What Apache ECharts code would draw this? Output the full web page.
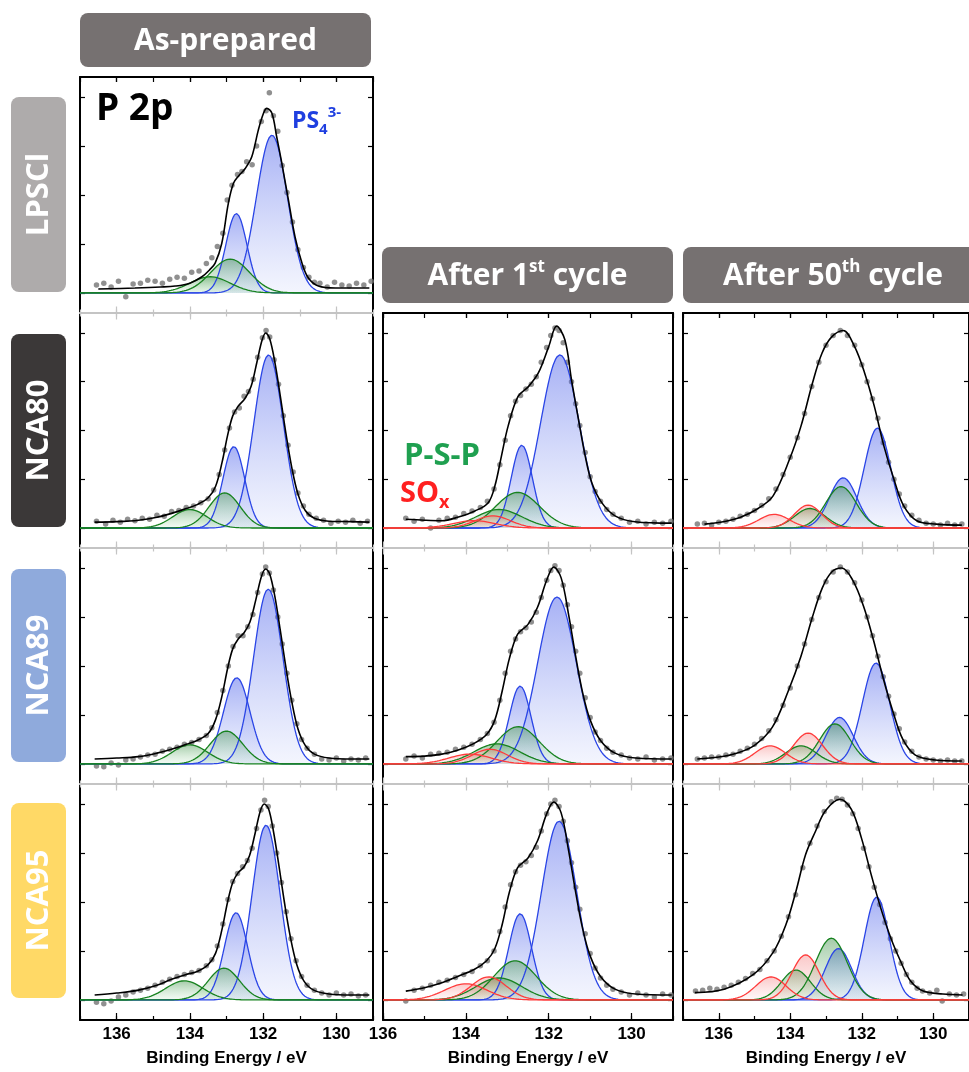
<!DOCTYPE html>
<html>
<head>
<meta charset="utf-8">
<script src="https://cdn.jsdelivr.net/npm/echarts@6/dist/echarts.min.js"></script>
<style>
  html, body { margin: 0; padding: 0; background: #fff; }
  #chart { width: 969px; height: 1072px; }
</style>
</head>
<body>
<div id="chart"></div>
<script>
// ---- data (binding energy eV, intensity in tick units) ----
const majorTicks = [130, 132, 134, 136];
const yTicks = [0, 1, 2, 3, 4];

// fitted components: [centre eV, height, FWHM eV]
// LPSCl as-prepared
const a1Blue = [[131.76, 3.22, 1.0], [132.73, 1.62, 0.68]];
const a1Green = [[132.9, 0.69, 1.25], [133.45, 0.33, 1.3]];
const a1Env = [[136.5,0.08],[135.5,0.1],[134.8,0.12],[134.4,0.14],[134.0,0.2],[133.67,0.33],[133.45,0.48],[133.31,0.61],[133.13,1.01],[132.95,1.83],[132.81,2.24],[132.67,2.39],[132.49,2.54],[132.31,2.78],[132.13,3.33],[131.99,3.67],[131.9,3.77],[131.76,3.67],[131.63,3.19],[131.49,2.65],[131.31,1.9],[131.13,1.15],[130.94,0.61],[130.76,0.3],[130.49,0.14],[130.03,0.1],[129.1,0.1]];
const a1Dots = [[136.55,0.16],[136.35,0.2],[136.15,0.12],[135.95,0.24],[135.75,-0.08],[135.55,0.18],[135.35,0.2],[135.15,0.26],[134.95,0.24],[134.75,0.2],[134.55,0.28],[134.35,0.32],[134.15,0.3],[133.95,0.42],[133.75,0.45],[133.55,0.6],[133.4,0.72],[133.25,0.95],[133.1,1.22],[132.98,1.9],[132.85,2.2],[132.7,2.42],[132.58,2.48],[132.45,2.68],[132.3,2.62],[132.18,3.0],[132.05,3.5],[131.92,3.72],[131.83,4.09],[131.72,3.62],[131.6,3.3],[131.48,2.6],[131.35,2.05],[131.2,1.45],[131.05,0.88],[130.9,0.52],[130.75,0.32],[130.6,0.22],[130.45,0.2],[130.25,0.12],[130.05,0.22],[129.85,0.16],[129.65,0.14],[129.45,0.2],[129.25,0.16],[129.05,0.24]];

// NCA80 as-prepared
const a2Blue = [[131.85, 3.55, 0.95], [132.8, 1.67, 0.7]];
const a2Green = [[133.05, 0.72, 1.0], [134.0, 0.38, 1.1]];
const a2Env = [[136.6,0.12],[136.0,0.13],[135.4,0.16],[134.9,0.22],[134.5,0.3],[134.1,0.4],[133.8,0.48],[133.5,0.62],[133.3,0.85],[133.12,1.35],[132.97,1.9],[132.83,2.3],[132.68,2.5],[132.5,2.65],[132.33,2.9],[132.17,3.4],[132.03,3.85],[131.93,4.0],[131.82,3.88],[131.68,3.4],[131.53,2.7],[131.38,1.95],[131.22,1.25],[131.05,0.7],[130.85,0.36],[130.6,0.2],[130.2,0.14],[129.6,0.13],[129.1,0.12]];
const a2Dots = [[136.55,0.14],[136.3,0.08],[136.1,0.16],[135.9,0.12],[135.7,0.18],[135.5,0.15],[135.3,0.2],[135.1,0.18],[134.9,0.26],[134.7,0.24],[134.5,0.34],[134.3,0.36],[134.1,0.42],[133.9,0.45],[133.7,0.52],[133.5,0.6],[133.35,0.78],[133.2,1.1],[133.05,1.6],[132.92,2.05],[132.78,2.38],[132.65,2.46],[132.52,2.7],[132.4,2.8],[132.27,3.05],[132.15,3.5],[132.02,3.9],[131.92,4.05],[131.82,3.92],[131.7,3.45],[131.58,2.95],[131.45,2.3],[131.32,1.7],[131.18,1.15],[131.05,0.72],[130.9,0.45],[130.75,0.28],[130.55,0.2],[130.35,0.16],[130.15,0.1],[129.95,0.14],[129.75,0.12],[129.55,0.16],[129.35,0.1],[129.15,0.14]];

// NCA89 as-prepared
const a3Blue = [[131.86, 3.57, 0.95], [132.72, 1.76, 0.85]];
const a3Green = [[133.0, 0.67, 1.05], [134.0, 0.39, 1.15]];
const a3Env = [[136.6,0.1],[136.0,0.12],[135.4,0.15],[134.9,0.22],[134.5,0.3],[134.1,0.4],[133.8,0.48],[133.5,0.62],[133.3,0.9],[133.12,1.4],[132.97,1.95],[132.83,2.35],[132.68,2.55],[132.52,2.68],[132.36,2.9],[132.2,3.35],[132.05,3.82],[131.93,3.98],[131.82,3.88],[131.68,3.42],[131.53,2.72],[131.38,1.98],[131.22,1.28],[131.05,0.72],[130.85,0.38],[130.6,0.2],[130.2,0.12],[129.6,0.1],[129.1,0.1]];
const a3Dots = [[136.55,-0.04],[136.35,-0.06],[136.15,0.02],[135.95,-0.02],[135.75,0.08],[135.55,0.1],[135.35,0.14],[135.15,0.18],[134.95,0.2],[134.75,0.26],[134.55,0.3],[134.35,0.34],[134.15,0.4],[133.95,0.44],[133.75,0.5],[133.55,0.58],[133.4,0.74],[133.25,1.05],[133.1,1.5],[132.95,2.0],[132.82,2.4],[132.68,2.62],[132.55,2.62],[132.42,2.8],[132.28,3.05],[132.15,3.5],[132.02,3.88],[131.93,4.02],[131.83,3.9],[131.72,3.55],[131.6,3.0],[131.48,2.45],[131.35,1.85],[131.22,1.3],[131.08,0.82],[130.95,0.5],[130.8,0.32],[130.6,0.2],[130.4,0.1],[130.2,0.08],[130.0,0.12],[129.8,0.06],[129.6,0.1],[129.4,0.08],[129.2,0.12]];

// NCA95 as-prepared
const a4Blue = [[131.92, 3.57, 0.9], [132.74, 1.78, 0.75]];
const a4Green = [[133.07, 0.65, 1.0], [134.15, 0.39, 1.2]];
const a4Env = [[136.6,0.1],[136.0,0.14],[135.4,0.2],[134.9,0.3],[134.5,0.42],[134.1,0.52],[133.8,0.58],[133.5,0.72],[133.3,0.95],[133.12,1.45],[132.97,2.0],[132.83,2.4],[132.68,2.6],[132.52,2.72],[132.37,2.95],[132.22,3.4],[132.08,3.85],[131.97,4.0],[131.85,3.9],[131.72,3.45],[131.57,2.75],[131.42,2.0],[131.26,1.3],[131.08,0.72],[130.88,0.38],[130.62,0.2],[130.2,0.12],[129.6,0.1],[129.1,0.1]];
const a4Dots = [[136.55,-0.05],[136.35,-0.08],[136.15,-0.02],[135.95,0.06],[135.75,0.1],[135.55,0.16],[135.35,0.2],[135.15,0.24],[134.95,0.3],[134.75,0.36],[134.55,0.42],[134.35,0.48],[134.15,0.52],[133.95,0.56],[133.75,0.6],[133.55,0.7],[133.4,0.82],[133.25,1.1],[133.1,1.55],[132.96,2.05],[132.83,2.42],[132.7,2.58],[132.56,2.72],[132.43,2.85],[132.3,3.1],[132.18,3.5],[132.06,3.88],[131.96,4.08],[131.86,3.95],[131.75,3.55],[131.63,3.0],[131.5,2.4],[131.37,1.8],[131.24,1.25],[131.1,0.8],[130.95,0.48],[130.8,0.3],[130.6,0.2],[130.4,0.14],[130.2,0.1],[130.0,0.14],[129.8,0.1],[129.6,0.12],[129.4,0.08],[129.2,0.1]];

// NCA80 after 1st cycle
const b2Blue = [[131.73, 3.55, 1.1], [132.65, 1.7, 0.6]];
const b2Green = [[132.75, 0.73, 1.25], [133.2, 0.38, 1.3]];
const b2Red = [[133.35, 0.25, 1.0], [133.8, 0.15, 1.2]];
const b2Env = [[135.45,0.18],[135.0,0.16],[134.58,0.15],[134.2,0.22],[133.78,0.35],[133.46,0.52],[133.3,0.86],[133.14,1.48],[132.98,2.09],[132.74,2.7],[132.49,2.9],[132.25,3.18],[132.0,3.72],[131.81,4.14],[131.61,3.86],[131.45,3.04],[131.28,2.22],[131.12,1.48],[130.96,0.93],[130.72,0.52],[130.4,0.25],[129.92,0.13],[129.03,0.1]];
const b2Dots = [[135.45,0.2],[135.25,0.14],[135.05,0.18],[134.85,0.0],[134.65,0.16],[134.45,0.2],[134.25,0.22],[134.05,0.3],[133.85,0.35],[133.65,0.42],[133.48,0.55],[133.32,0.8],[133.18,1.3],[133.05,1.8],[132.92,2.3],[132.8,2.6],[132.68,2.72],[132.55,2.85],[132.42,2.95],[132.3,3.1],[132.18,3.4],[132.05,3.7],[131.95,3.95],[131.85,4.1],[131.75,4.05],[131.65,3.8],[131.55,3.4],[131.45,3.0],[131.35,2.55],[131.25,2.1],[131.12,1.55],[131.0,1.05],[130.88,0.75],[130.75,0.55],[130.6,0.38],[130.45,0.28],[130.25,0.2],[130.05,0.12],[129.85,0.14],[129.65,0.08],[129.45,0.12],[129.25,0.1],[129.05,0.14]];

// NCA89 after 1st cycle
const b3Blue = [[131.8, 3.41, 1.1], [132.69, 1.59, 0.62]];
const b3Green = [[132.74, 0.76, 1.2], [133.25, 0.41, 1.3]];
const b3Red = [[133.42, 0.3, 1.0], [133.9, 0.2, 1.2]];
const b3Env = [[135.45,0.15],[135.0,0.16],[134.58,0.2],[134.2,0.28],[133.8,0.42],[133.5,0.6],[133.3,0.9],[133.12,1.5],[132.95,2.15],[132.75,2.65],[132.5,2.85],[132.27,3.2],[132.05,3.75],[131.88,4.02],[131.7,3.8],[131.52,3.05],[131.35,2.2],[131.18,1.45],[131.0,0.9],[130.75,0.48],[130.4,0.22],[129.9,0.12],[129.03,0.1]];
const b3Dots = [[135.45,0.1],[135.25,0.16],[135.05,0.12],[134.85,0.2],[134.65,0.22],[134.45,0.24],[134.25,0.3],[134.05,0.34],[133.85,0.4],[133.65,0.5],[133.48,0.62],[133.32,0.85],[133.18,1.3],[133.05,1.85],[132.92,2.3],[132.8,2.55],[132.68,2.7],[132.55,2.78],[132.42,2.9],[132.3,3.1],[132.18,3.4],[132.05,3.75],[131.95,3.95],[131.85,4.05],[131.75,3.95],[131.65,3.65],[131.55,3.25],[131.45,2.8],[131.35,2.3],[131.25,1.85],[131.12,1.35],[131.0,0.95],[130.88,0.65],[130.75,0.48],[130.6,0.32],[130.45,0.24],[130.25,0.18],[130.05,0.12],[129.85,0.1],[129.65,0.14],[129.45,0.08],[129.25,0.1],[129.05,0.12]];

// NCA95 after 1st cycle
const b4Blue = [[131.75, 3.65, 1.0], [132.69, 1.76, 0.65]];
const b4Green = [[132.81, 0.8, 1.2], [133.2, 0.45, 1.3]];
const b4Red = [[133.45, 0.47, 1.0], [134.0, 0.33, 1.2]];
const b4Env = [[135.45,0.18],[135.0,0.25],[134.58,0.35],[134.2,0.48],[133.8,0.62],[133.5,0.8],[133.3,1.05],[133.12,1.55],[132.95,2.2],[132.75,2.7],[132.5,2.9],[132.27,3.25],[132.05,3.8],[131.88,4.04],[131.7,3.82],[131.52,3.05],[131.35,2.2],[131.18,1.45],[131.0,0.9],[130.75,0.48],[130.4,0.22],[129.9,0.12],[129.03,0.1]];
const b4Dots = [[135.45,-0.02],[135.25,0.2],[135.05,0.24],[134.85,0.3],[134.65,0.36],[134.45,0.4],[134.25,0.46],[134.05,0.52],[133.85,0.58],[133.65,0.7],[133.48,0.8],[133.32,1.0],[133.18,1.4],[133.05,1.9],[132.92,2.35],[132.8,2.62],[132.68,2.75],[132.55,2.82],[132.42,2.95],[132.3,3.12],[132.18,3.45],[132.05,3.8],[131.95,4.0],[131.85,4.08],[131.75,3.95],[131.65,3.65],[131.55,3.25],[131.45,2.8],[131.35,2.3],[131.25,1.85],[131.12,1.35],[131.0,0.95],[130.88,0.65],[130.75,0.45],[130.6,0.3],[130.45,0.22],[130.25,0.16],[130.05,0.1],[129.85,0.14],[129.65,0.1],[129.45,0.06],[129.25,0.12],[129.05,0.1]];

// NCA80 after 50th cycle
const c2Blue = [[131.56, 2.05, 0.87], [132.52, 1.03, 0.9]];
const c2Green = [[132.58, 0.85, 1.0], [133.45, 0.4, 1.0]];
const c2Red = [[133.5, 0.47, 0.9], [134.45, 0.28, 1.0]];
const c2Env = [[136.4,0.08],[135.8,0.14],[135.39,0.22],[134.9,0.4],[134.48,0.66],[134.02,1.41],[133.7,2.09],[133.38,2.97],[133.11,3.59],[132.84,3.92],[132.52,4.05],[132.2,3.72],[131.92,3.18],[131.65,2.5],[131.38,1.68],[131.1,1.0],[130.83,0.46],[130.46,0.15],[129.91,0.08],[129.2,0.06]];
const c2Dots = [[136.6,0.08],[136.4,0.1],[136.2,0.06],[136.0,0.12],[135.8,0.14],[135.6,0.18],[135.4,0.24],[135.2,0.28],[135.0,0.36],[134.8,0.46],[134.6,0.6],[134.4,0.8],[134.2,1.1],[134.0,1.45],[133.8,1.85],[133.6,2.35],[133.4,2.9],[133.2,3.4],[133.0,3.75],[132.8,3.95],[132.6,4.05],[132.4,3.95],[132.2,3.75],[132.0,3.35],[131.85,3.0],[131.7,2.65],[131.55,2.25],[131.4,1.75],[131.25,1.35],[131.1,1.0],[130.95,0.7],[130.8,0.45],[130.6,0.26],[130.4,0.16],[130.2,0.1],[130.0,0.08],[129.8,0.06],[129.6,0.1],[129.4,0.06],[129.2,0.08]];

// NCA89 after 50th cycle
const c3Blue = [[131.6, 2.06, 0.9], [132.62, 0.95, 0.9]];
const c3Green = [[132.75, 0.82, 1.0], [133.7, 0.37, 1.0]];
const c3Red = [[133.5, 0.63, 0.95], [134.56, 0.37, 1.0]];
const c3Env = [[136.6,0.1],[136.0,0.14],[135.5,0.22],[135.0,0.38],[134.5,0.75],[134.05,1.5],[133.7,2.2],[133.38,3.0],[133.1,3.6],[132.84,3.92],[132.56,4.0],[132.25,3.75],[131.95,3.22],[131.68,2.55],[131.4,1.75],[131.12,1.05],[130.85,0.5],[130.5,0.18],[129.95,0.08],[129.2,0.06]];
const c3Dots = [[136.6,0.1],[136.4,0.12],[136.2,0.14],[136.0,0.14],[135.8,0.18],[135.6,0.2],[135.4,0.26],[135.2,0.32],[135.0,0.4],[134.8,0.52],[134.6,0.68],[134.4,0.9],[134.2,1.2],[134.0,1.55],[133.8,2.0],[133.6,2.45],[133.4,2.95],[133.2,3.4],[133.0,3.72],[132.8,3.92],[132.6,4.02],[132.4,3.92],[132.2,3.7],[132.0,3.35],[131.85,3.0],[131.7,2.62],[131.55,2.2],[131.4,1.78],[131.25,1.38],[131.1,1.02],[130.95,0.72],[130.8,0.45],[130.6,0.26],[130.4,0.14],[130.2,0.1],[130.0,0.08],[129.8,0.06],[129.6,0.08],[129.4,0.06],[129.2,0.06]];

// NCA95 after 50th cycle
const c4Blue = [[131.58, 2.1, 0.82], [132.65, 1.05, 0.87]];
const c4Green = [[132.85, 1.26, 1.05], [133.84, 0.61, 0.95]];
const c4Red = [[133.57, 0.92, 0.9], [134.54, 0.47, 1.0]];
const c4Env = [[136.67,0.15],[135.85,0.22],[135.03,0.52],[134.48,0.97],[134.12,1.54],[133.84,2.22],[133.57,2.97],[133.29,3.45],[133.02,3.86],[132.61,4.1],[132.29,3.89],[132.01,3.31],[131.74,2.57],[131.47,1.88],[131.19,1.27],[130.92,0.8],[130.64,0.39],[130.28,0.18],[129.73,0.12],[129.18,0.1]];
const c4Dots = [[136.65,0.18],[136.45,0.2],[136.25,0.24],[136.05,0.22],[135.85,0.26],[135.65,0.3],[135.45,0.36],[135.25,0.44],[135.05,0.54],[134.85,0.62],[134.65,0.8],[134.45,1.0],[134.25,1.3],[134.05,1.7],[133.85,2.15],[133.65,2.7],[133.45,3.2],[133.25,3.55],[133.05,3.85],[132.85,4.05],[132.7,4.12],[132.55,4.1],[132.4,3.98],[132.25,3.8],[132.1,3.5],[131.95,3.1],[131.8,2.72],[131.65,2.3],[131.5,1.95],[131.35,1.58],[131.2,1.25],[131.05,1.0],[130.9,0.75],[130.75,0.52],[130.6,0.36],[130.45,0.24],[130.3,0.18],[130.1,0.14],[129.9,0.2],[129.75,-0.02],[129.55,0.12],[129.35,0.1],[129.15,0.12]];

// ---- layout ----
const colLeft = [80, 383, 683];
const colWidth = [293, 290, 292];
const colMax = [137, 136, 137];
const colFirstRow = [0, 1, 1];
const rowTop = [77, 313, 548, 784];
const rowHeight = [236, 235, 236, 236];

const panels = [
  { col: 0, row: 0, env: a1Env, dots: a1Dots, blue: a1Blue, green: a1Green, red: [] },
  { col: 0, row: 1, env: a2Env, dots: a2Dots, blue: a2Blue, green: a2Green, red: [] },
  { col: 0, row: 2, env: a3Env, dots: a3Dots, blue: a3Blue, green: a3Green, red: [] },
  { col: 0, row: 3, env: a4Env, dots: a4Dots, blue: a4Blue, green: a4Green, red: [] },
  { col: 1, row: 1, env: b2Env, dots: b2Dots, blue: b2Blue, green: b2Green, red: b2Red },
  { col: 1, row: 2, env: b3Env, dots: b3Dots, blue: b3Blue, green: b3Green, red: b3Red },
  { col: 1, row: 3, env: b4Env, dots: b4Dots, blue: b4Blue, green: b4Green, red: b4Red },
  { col: 2, row: 1, env: c2Env, dots: c2Dots, blue: c2Blue, green: c2Green, red: c2Red },
  { col: 2, row: 2, env: c3Env, dots: c3Dots, blue: c3Blue, green: c3Green, red: c3Red },
  { col: 2, row: 3, env: c4Env, dots: c4Dots, blue: c4Blue, green: c4Green, red: c4Red }
];

const peakStyles = {
  blue: { line: '#2a45e6', top: 'rgba(80,100,235,0.72)', bottom: 'rgba(120,140,240,0.12)' },
  green: { line: '#17821f', top: 'rgba(40,130,50,0.6)', bottom: 'rgba(120,200,130,0.12)' },
  red: { line: '#ff3b3b', top: 'rgba(240,80,80,0.45)', bottom: 'rgba(250,140,140,0.08)' }
};

// gaussian line shape of a fitted component
function peakLine(pk, xmax) {
  const pts = [];
  for (let x = 129; x <= xmax + 1e-9; x += 0.02) {
    const d = (x - pk[0]) / pk[2];
    pts.push([+x.toFixed(2), pk[1] * Math.exp(-4 * Math.LN2 * d * d)]);
  }
  return pts;
}

const grids = [], xAxes = [], yAxes = [], series = [];
const GREY = '#c4c4c4';
const FONT = 'Liberation Sans';

panels.forEach((p, i) => {
  grids.push({ left: colLeft[p.col], top: rowTop[p.row], width: colWidth[p.col], height: rowHeight[p.row] });
  const isTop = p.row === colFirstRow[p.col];
  const isBottom = p.row === 3;
  const botColor = isBottom ? '#000' : GREY;
  const topColor = isTop ? '#000' : GREY;
  const base = { gridIndex: i, type: 'value', min: 129, max: colMax[p.col], inverse: true, splitLine: { show: false } };

  // bottom axis: all integer ticks + longer even ticks with labels
  xAxes.push(Object.assign({}, base, {
    position: 'bottom', interval: 1,
    axisLine: { show: true, onZero: false, lineStyle: { color: botColor, width: 2 } },
    axisTick: { show: true, inside: true, length: isBottom ? 4 : 3.5, lineStyle: { color: botColor, width: 1.2 } },
    axisLabel: { show: false }
  }));
  xAxes.push(Object.assign({}, base, {
    position: 'bottom',
    axisLine: { show: false, onZero: false },
    axisTick: { show: true, inside: true, length: isBottom ? 7 : 6.5, customValues: majorTicks, lineStyle: { color: botColor, width: 1.2 } },
    axisLabel: isBottom ? { show: true, customValues: majorTicks, margin: 6, fontSize: 17, fontWeight: 'bold', fontFamily: FONT, color: '#000', showMinLabel: true, showMaxLabel: true } : { show: false },
    name: isBottom ? 'Binding Energy / eV' : '',
    nameLocation: 'middle', nameGap: 30,
    nameTextStyle: { fontSize: 17, fontWeight: 'bold', fontFamily: FONT, color: '#000' }
  }));
  // top axis
  xAxes.push(Object.assign({}, base, {
    position: 'top', interval: 1,
    axisLine: { show: true, onZero: false, lineStyle: { color: topColor, width: 2 } },
    axisTick: { show: true, inside: true, length: isTop ? 5 : 3.5, lineStyle: { color: topColor, width: 1.2 } },
    axisLabel: { show: false }
  }));
  xAxes.push(Object.assign({}, base, {
    position: 'top',
    axisLine: { show: false, onZero: false },
    axisTick: { show: true, inside: true, length: isTop ? 5 : 6.5, customValues: majorTicks, lineStyle: { color: topColor, width: 1.2 } },
    axisLabel: { show: false }
  }));

  ['left', 'right'].forEach(pos => {
    yAxes.push({
      gridIndex: i, type: 'value', min: -0.41, max: 4.41, position: pos,
      axisLine: { show: true, onZero: false, lineStyle: { color: '#000', width: 2 } },
      axisTick: { show: true, inside: true, length: 5, customValues: yTicks, lineStyle: { color: '#000', width: 1.2 } },
      axisLabel: { show: false }, splitLine: { show: false }
    });
  });

  const xi = i * 4, yi = i * 2;
  ['blue', 'green', 'red'].forEach(kind => {
    const st = peakStyles[kind];
    p[kind].forEach(pk => {
      series.push({
        type: 'line', xAxisIndex: xi, yAxisIndex: yi,
        data: peakLine(pk, colMax[p.col]),
        showSymbol: false, symbol: 'none', silent: true,
        lineStyle: { color: st.line, width: 1.3 },
        areaStyle: { color: new echarts.graphic.LinearGradient(0, 0, 0, 1, [
          { offset: 0, color: st.top }, { offset: 1, color: st.bottom }]) }
      });
    });
  });
  series.push({
    type: 'scatter', xAxisIndex: xi, yAxisIndex: yi, data: p.dots,
    symbolSize: 5.5, itemStyle: { color: '#747474' }, silent: true
  });
  series.push({
    type: 'line', xAxisIndex: xi, yAxisIndex: yi, data: p.env,
    smooth: 0.35, showSymbol: false, symbol: 'none', silent: true,
    lineStyle: { color: '#000', width: 1.6 }
  });
});

// ---- headers and row labels ----
const headFont = '"Open Sans", "Noto Sans", sans-serif';
function headerBox(x, y, w, h, rich) {
  return [
    { type: 'rect', z: 50, shape: { x: x, y: y, width: w, height: h, r: 8 }, style: { fill: '#767171' } },
    { type: 'text', z: 51, x: x + w / 2, y: y + h / 2 + 1, style: {
      text: rich, align: 'center', verticalAlign: 'middle',
      rich: {
        a: { fontSize: 30, fontWeight: 'bold', fontFamily: headFont, fill: '#fff', color: '#fff', lineHeight: 34 },
        s: { fontSize: 17, fontWeight: 'bold', fontFamily: headFont, fill: '#fff', color: '#fff', lineHeight: 34, verticalAlign: 'top' }
      } } }
  ];
}
function rowLabel(y0, y1, text, fill) {
  return [
    { type: 'rect', z: 50, shape: { x: 11, y: y0, width: 55, height: y1 - y0, r: 8 }, style: { fill: fill } },
    { type: 'text', z: 51, x: 39, y: (y0 + y1) / 2, rotation: Math.PI / 2, style: {
      text: text, fill: '#fff', font: 'bold 31px ' + headFont, align: 'center', verticalAlign: 'middle' } }
  ];
}

const graphic = [].concat(
  headerBox(80, 13, 291, 54, '{a|As-prepared}'),
  headerBox(382, 247, 291, 56, '{a|After 1}{s|st}{a| cycle}'),
  headerBox(683, 247, 300, 56, '{a|After 50}{s|th}{a| cycle}'),
  rowLabel(97, 292, 'LPSCl', '#aeabab'),
  rowLabel(334, 527, 'NCA80', '#3b3838'),
  rowLabel(569, 762, 'NCA89', '#8faadc'),
  rowLabel(803, 998, 'NCA95', '#ffd966'),
  [
    { type: 'text', z: 60, x: 96, y: 109, style: { text: 'P 2p', fill: '#000', font: 'bold 37px ' + headFont, align: 'left', verticalAlign: 'middle' } },
    { type: 'text', z: 60, x: 292, y: 121, style: {
      text: '{a|PS}{b|4}{c|3-}', align: 'left', verticalAlign: 'middle',
      rich: {
        a: { fontSize: 23, fontWeight: 'bold', fontFamily: headFont, color: '#1f3fe0', fill: '#1f3fe0', lineHeight: 32 },
        b: { fontSize: 15, fontWeight: 'bold', fontFamily: headFont, color: '#1f3fe0', fill: '#1f3fe0', lineHeight: 32, verticalAlign: 'bottom' },
        c: { fontSize: 15, fontWeight: 'bold', fontFamily: headFont, color: '#1f3fe0', fill: '#1f3fe0', lineHeight: 32, verticalAlign: 'top' }
      } } },
    { type: 'text', z: 60, x: 404, y: 456, style: { text: 'P-S-P', fill: '#1fa050', font: 'bold 31px ' + headFont, align: 'left', verticalAlign: 'middle' } },
    { type: 'text', z: 60, x: 400, y: 494, style: {
      text: '{a|SO}{b|x}', align: 'left', verticalAlign: 'middle',
      rich: {
        a: { fontSize: 29, fontWeight: 'bold', fontFamily: headFont, color: '#ff2020', fill: '#ff2020', lineHeight: 36 },
        b: { fontSize: 18, fontWeight: 'bold', fontFamily: headFont, color: '#ff2020', fill: '#ff2020', lineHeight: 36, verticalAlign: 'bottom' }
      } } }
  ]
);

const chart = echarts.init(document.getElementById('chart'), null, { renderer: 'canvas' });
chart.setOption({
  animation: false,
  backgroundColor: '#fff',
  grid: grids,
  xAxis: xAxes,
  yAxis: yAxes,
  series: series,
  graphic: graphic
});
</script>
</body>
</html>
